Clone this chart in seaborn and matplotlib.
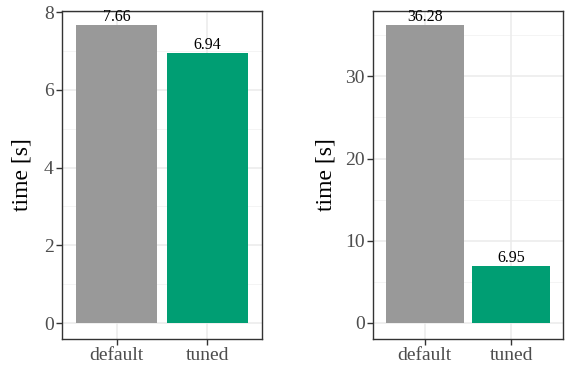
import matplotlib
matplotlib.use("Agg")
import matplotlib.pyplot as plt
import seaborn as sns
import pandas as pd
import numpy as np

configs = ["default", "tuned"]
time_left = [7.66, 6.94]
time_right = [36.28, 6.95]
colors = ["#999999", "#009E73"]

sns.set_style("white")
plt.rcParams['font.family'] = ['Liberation Serif', 'DejaVu Serif']

fig = plt.figure(figsize=(5.66, 3.71), dpi=100)
W, H = 566, 371

def make_ax(x0, x1, y0, y1):
    return fig.add_axes([x0 / W, 1 - y1 / H, (x1 - x0) / W, (y1 - y0) / H])

ax1 = make_ax(62, 262, 11, 339)
ax2 = make_ax(373, 563, 11, 339)

def draw(ax, vals, ylim, major, minor, ylab_x):
    df = pd.DataFrame({"config": configs, "time": vals})
    ax.set_axisbelow(True)
    for m in minor:
        ax.axhline(m, color="#F2F2F2", lw=0.6, zorder=0)
    for m in major:
        ax.axhline(m, color="#EBEBEB", lw=1.1, zorder=0)
    for i in range(len(configs)):
        ax.axvline(i, color="#EBEBEB", lw=1.1, zorder=0)
    sns.barplot(data=df, x="config", y="time", hue="config", palette=colors,
                width=0.9, ax=ax, legend=False, saturation=1, zorder=2)
    for p in ax.patches:
        p.set_edgecolor("none")
    for i, v in enumerate(vals):
        ax.text(i, v, f"{v:.2f}", ha="center", va="bottom", fontsize=11.5,
                color="black", zorder=3)
    ax.set_xlim(-0.6, len(configs) - 0.4)
    ax.set_ylim(*ylim)
    ax.set_yticks(major)
    ax.set_xlabel("")
    ax.set_ylabel("time [s]", fontsize=17, color="black")
    ax.yaxis.set_label_coords(ylab_x, 0.5)
    ax.tick_params(axis="both", labelsize=14, colors="#333333",
                   labelcolor="#4D4D4D", length=4, width=1, direction="out",
                   left=True, bottom=True, pad=2)
    for s in ax.spines.values():
        s.set_color("#333333")
        s.set_linewidth(1)

draw(ax1, time_left, (-0.41, 8.03), [0, 2, 4, 6, 8], [1, 3, 5, 7], -0.148)
draw(ax2, time_right, (-1.95, 37.95), [0, 10, 20, 30], [5, 15, 25, 35], -0.19)

fig.savefig("out.png", dpi=100)
